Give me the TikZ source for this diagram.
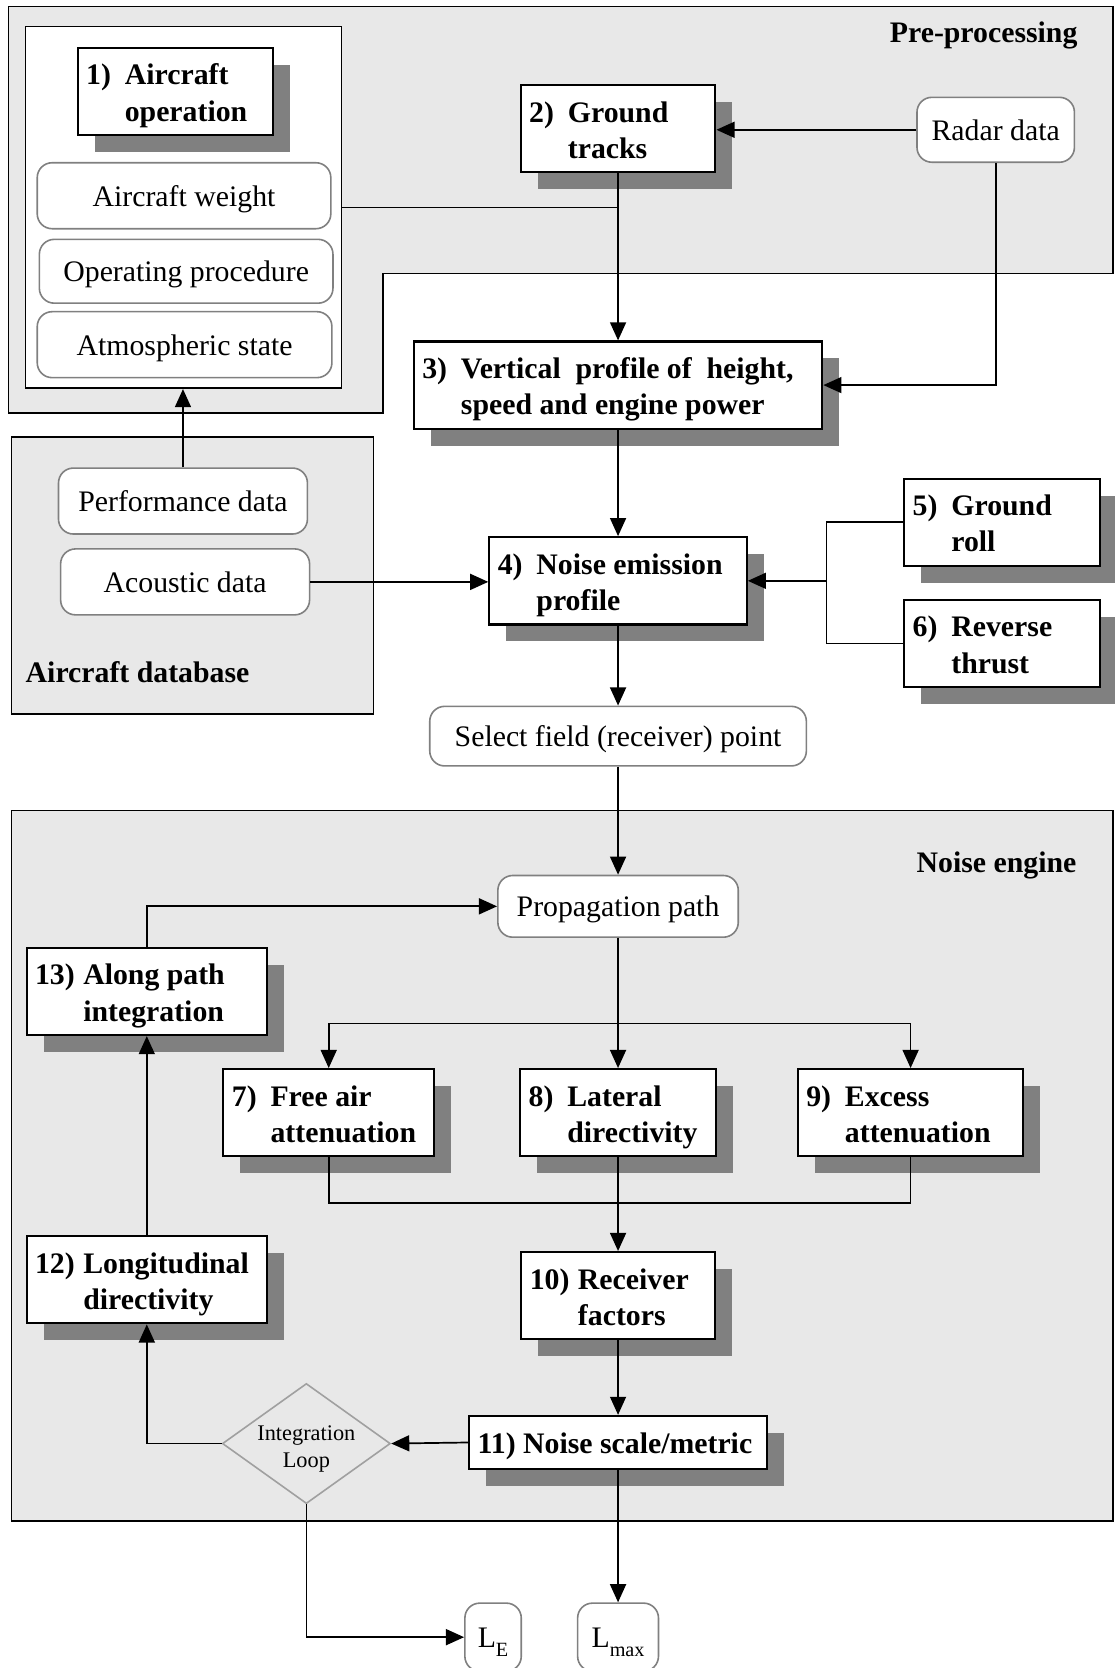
\documentclass[tikz,border=0pt]{standalone}
\usepackage{fontspec}
\setmainfont{Liberation Serif}
\usetikzlibrary{arrows.meta,shapes.geometric,shadows}
\definecolor{bggray}{RGB}{232,232,232}
\definecolor{shgray}{RGB}{128,128,128}
\definecolor{rgray}{RGB}{128,128,128}
\definecolor{dgray}{RGB}{160,160,160}
\newcommand\hb[4]{\makebox[#1][l]{\raisebox{-4pt}[\height][\depth]{\begin{tabular}{@{}l@{}l@{}}#2&#3\\&#4\end{tabular}}}}
\begin{document}
\begin{tikzpicture}[x=1pt,y=-1pt,
  font=\fontsize{28}{34}\selectfont,
  region/.style={fill=bggray,draw=black,line width=1.5pt},
  box/.style={draw=black,fill=white,line width=2pt,inner xsep=8pt,inner ysep=0pt,
    font=\fontsize{28}{34}\selectfont\bfseries,
    general shadow={fill=shgray,shadow xshift=16pt,shadow yshift=-16pt}},
  rbox/.style={draw=rgray,fill=white,line width=1.5pt,rounded corners=14pt,inner sep=0pt,
    text height=20pt,text depth=0pt},
  conn/.style={line width=1.6pt},
  arr/.style={conn,-{Triangle[length=17pt,width=15pt]}},
  lbl/.style={font=\fontsize{28}{34}\selectfont\bfseries,inner sep=0pt}]
\useasboundingbox (0,0) rectangle (1048,1568);

% regions
\draw[region] (8,6) -- (1046,6) -- (1046,257) -- (360,257) -- (360,388) -- (8,388) -- cycle;
\draw[region] (11,411) rectangle (351,671);
\draw[region] (11,762) rectangle (1046,1430);
\node[lbl,anchor=east] (lpre) at (1013,33) {Pre-processing};
\node[lbl,anchor=west] (ldb) at (24,632) {Aircraft database};
\node[lbl,anchor=east] (lne) at (1012,814) {Noise engine};

% aircraft operation frame
\node[draw=black,fill=white,line width=1.5pt,minimum width=297pt,minimum height=340pt,inner sep=0pt] (opframe) at (172.5,195) {};

% boxes
\node[box,minimum width=184pt,minimum height=82pt] (b1) at (165,86) {\hb{168pt}{1)\kern13pt}{Aircraft}{operation}};
\node[box,minimum width=183pt,minimum height=82pt] (b2) at (581,121) {\hb{167pt}{2)\kern13pt}{Ground}{tracks}};
\node[box,minimum width=384pt,minimum height=82pt] (b3) at (581,362) {\hb{368pt}{3)\kern13pt}{Vertical\ \ profile of\ \ height,}{speed and engine power}};
\node[box,minimum width=242pt,minimum height=82pt] (b4) at (581,546) {\hb{226pt}{4)\kern13pt}{Noise emission}{profile}};
\node[box,minimum width=184pt,minimum height=82pt] (b5) at (942,491) {\hb{168pt}{5)\kern13pt}{Ground}{roll}};
\node[box,minimum width=184pt,minimum height=82pt] (b6) at (942,605) {\hb{168pt}{6)\kern13pt}{Reverse}{thrust}};
\node[box,minimum width=198pt,minimum height=82pt] (b7) at (309,1046) {\hb{182pt}{7)\kern13pt}{Free air}{attenuation}};
\node[box,minimum width=184pt,minimum height=82pt] (b8) at (581,1046) {\hb{168pt}{8)\kern13pt}{Lateral}{directivity}};
\node[box,minimum width=212pt,minimum height=82pt] (b9) at (856,1046) {\hb{196pt}{9)\kern13pt}{Excess}{attenuation}};
\node[box,minimum width=182pt,minimum height=82pt] (b10) at (581,1218) {\hb{166pt}{10)\kern8pt}{Receiver}{factors}};
\node[box,minimum width=280pt,minimum height=50pt,text height=20pt,text depth=0pt] (b11) at (581,1356) {\makebox[264pt][l]{11) Noise scale/metric}};
\node[box,minimum width=226pt,minimum height=82pt] (b12) at (138,1203) {\hb{210pt}{12)\kern8pt}{Longitudinal}{directivity}};
\node[box,minimum width=226pt,minimum height=82pt] (b13) at (138,932) {\hb{210pt}{13)\kern8pt}{Along path}{integration}};

% rounded boxes
\node[rbox,minimum width=276pt,minimum height=62pt] (aw) at (173,184) {Aircraft weight};
\node[rbox,minimum width=276pt,minimum height=60pt] (op) at (175,255) {Operating procedure};
\node[rbox,minimum width=277pt,minimum height=62pt] (as) at (173.5,324) {Atmospheric state};
\node[rbox,minimum width=148pt,minimum height=61pt] (radar) at (936,122) {Radar data};
\node[rbox,minimum width=234pt,minimum height=62pt] (perf) at (172,471) {Performance data};
\node[rbox,minimum width=234pt,minimum height=62pt] (acou) at (174,547) {Acoustic data};
\node[rbox,minimum width=354pt,minimum height=56pt] (sel) at (581,692) {Select field (receiver) point};
\node[rbox,minimum width=226pt,minimum height=58pt] (prop) at (581,852) {Propagation path};
\node[rbox,minimum width=53pt,minimum height=64pt] (le) at (463.5,1539) {L\raisebox{-8pt}{\fontsize{19}{19}\selectfont E}};
\node[rbox,minimum width=76pt,minimum height=64pt] (lmax) at (581,1539) {L\raisebox{-8pt}{\fontsize{19}{19}\selectfont max}};

% decision
\node[diamond,aspect=1.4,draw=dgray,fill=bggray,line width=1.5pt,minimum width=158pt,minimum height=113pt,inner sep=0pt,
  font=\fontsize{21}{25}\selectfont] (loop) at (288,1357)
  {\raisebox{-10pt}[18pt][18pt]{\begin{tabular}{@{}c@{}}Integration\\Loop\end{tabular}}};

% connectors
\draw[arr] (radar.west) -- (radar.west -| b2.east);
\draw[arr] (radar.south) |- (b3.east);
\draw[conn] (opframe.east) -- (opframe.east -| b2.south);
\draw[arr] (b2.south) -- (b3.north);
\draw[arr] (b3.south) -- (b4.north);
\draw[arr] (perf.north) -- (perf.north |- opframe.south);
\draw[arr] (acou.east) -- (acou.east -| b4.west);
\coordinate (j56) at (777,546);
\draw[conn] (b5.west) -| (j56) |- (b6.west);
\draw[arr] (j56) -- (b4.east);
\draw[arr] (b4.south) -- (sel.north);
\draw[arr] (sel.south) -- (prop.north);
\draw[arr] (b13.north) |- (prop.west);
\coordinate (sp) at (581,962);
\draw[conn] (prop.south) -- (sp);
\draw[arr] (sp) -| (b7.north);
\draw[arr] (sp) -| (b9.north);
\draw[arr] (sp) -- (b8.north);
\coordinate (mg) at (581,1131);
\draw[conn] (b7.south) |- (mg) -| (b9.south);
\draw[arr] (b8.south) -- (b10.north);
\draw[arr] (b10.south) -- (b11.north);
\draw[arr] (b11.west) -- (loop.east);
\draw[arr] (loop.west) -| (b12.south);
\draw[arr] (b12.north) -- (b13.south);
\draw[arr] (loop.south) |- (le.west);
\draw[arr] (b11.south) -- (lmax.north);
\end{tikzpicture}
\end{document}
